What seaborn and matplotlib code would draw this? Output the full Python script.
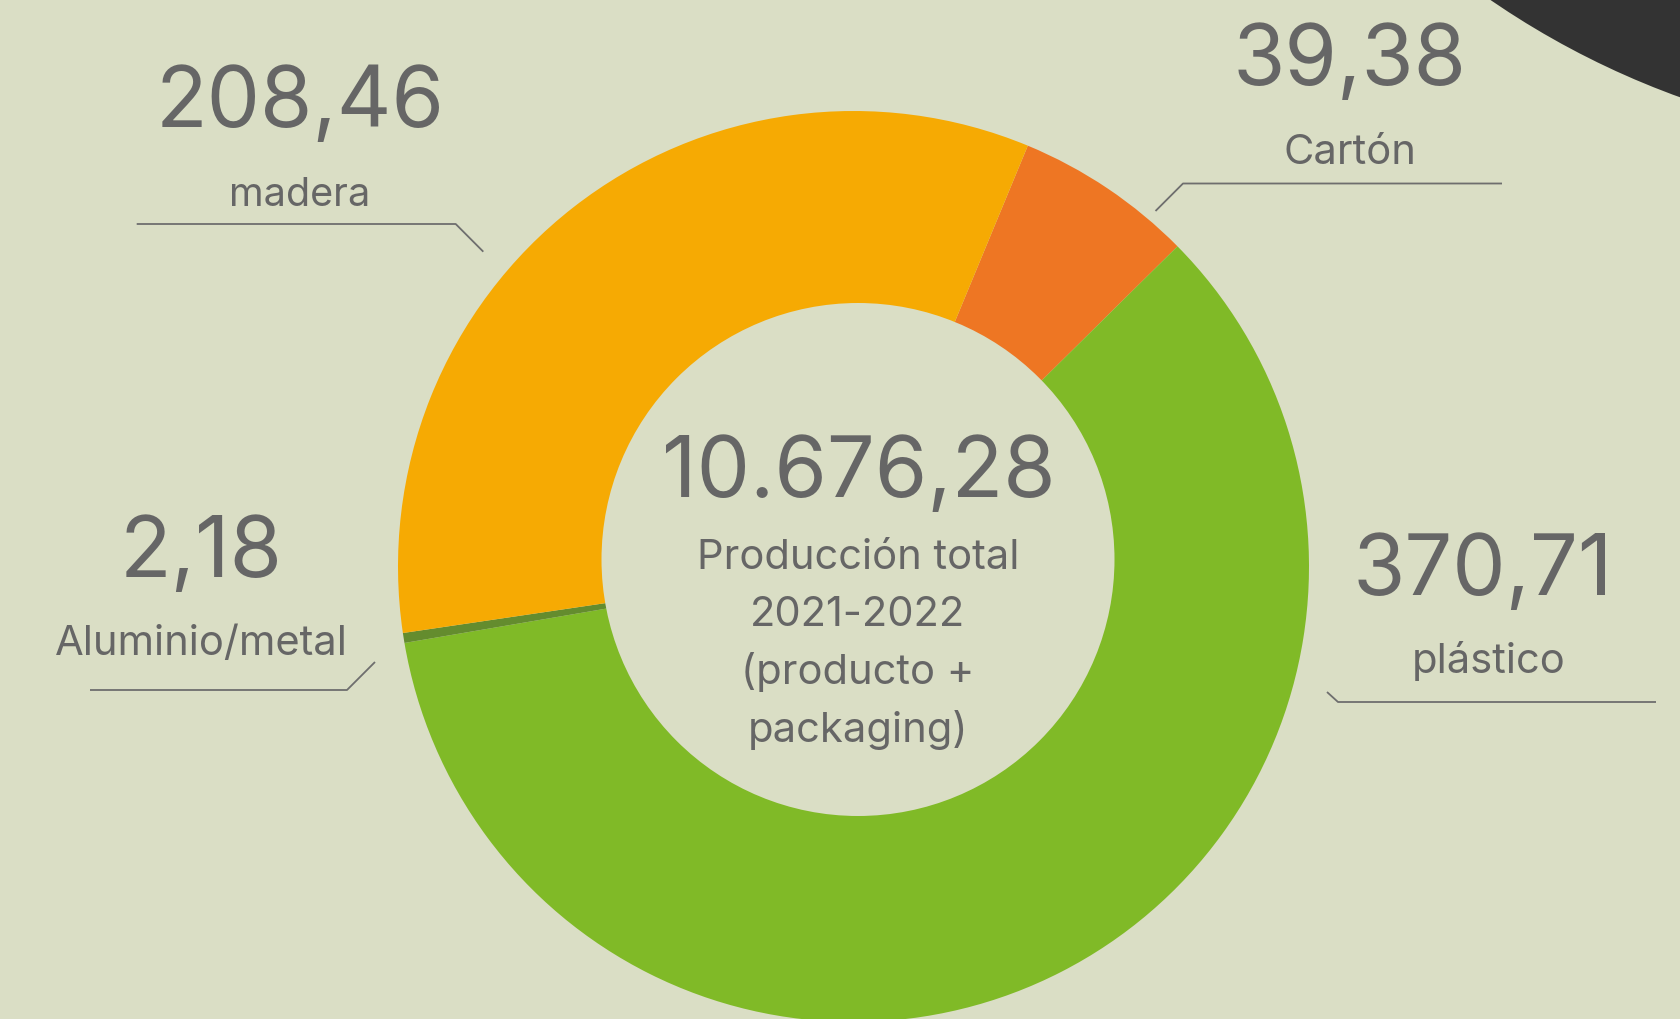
import matplotlib
matplotlib.use("Agg")
import matplotlib.pyplot as plt
from matplotlib.patches import Circle
import seaborn as sns

# Material breakdown (t), listed clockwise starting at the top-right slice
categories = ["Cartón", "plástico", "Aluminio/metal", "madera"]
values = [39.38, 370.71, 2.18, 208.46]
value_labels = ["39,38", "370,71", "2,18", "208,46"]
total_label = "10.676,28"
center_lines = ["Producción total", "2021-2022", "(producto +", "packaging)"]

BG = "#DADEC5"
TXT = "#666666"
LINE = "#6E6E6E"
palette = sns.color_palette(["#EE7623", "#80BA27", "#648C2E", "#F6AA03"])

sns.set_theme(style="white", rc={"axes.facecolor": BG, "figure.facecolor": BG})
plt.rcParams["font.family"] = ["Inter", "Roboto", "DejaVu Sans"]

W, H = 1681, 1020
fig = plt.figure(figsize=(W / 100, H / 100), dpi=100)
ax = fig.add_axes([0, 0, 1, 1])


def Y(y):
    # image-style y (top = 0) to data y
    return H - y


# decorative dark disc in the top-right corner
ax.add_patch(Circle((1964, Y(-688)), 836, color="#333333", lw=0, zorder=0))

# donut ring
ax.pie(values, colors=palette, startangle=67.5, counterclock=False,
       center=(853.5, Y(567.5)), radius=455.5,
       wedgeprops=dict(linewidth=0, antialiased=True))
ax.add_patch(Circle((858, Y(560.5)), 256.5, color=BG, lw=0, zorder=3))

ax.set_xlim(0, W)
ax.set_ylim(0, H)
ax.set_aspect("equal")
ax.axis("off")

num_kw = dict(color=TXT, fontsize=61, ha="center", va="baseline", zorder=5)
lab_kw = dict(color=TXT, fontsize=30, ha="center", va="baseline", zorder=5)

# label blocks: value x, value baseline, name x, name baseline, name size
blocks = {
    "madera": (300, 127, 300, 205.5, 28.5),
    "Cartón": (1350, 85, 1350, 164, 30),
    "Aluminio/metal": (201, 577, 201.5, 655, 30),
    "plástico": (1483, 595, 1488.5, 673, 30),
}
for cat, vlab in zip(categories, value_labels):
    vx, vy, nx, ny, ns = blocks[cat]
    ax.text(vx, Y(vy), vlab, **num_kw)
    kw = dict(lab_kw)
    kw["fontsize"] = ns
    ax.text(nx, Y(ny), cat, **kw)

# leader lines
leaders = [
    [(136.7, 225), (455.7, 225), (483.3, 252.7)],
    [(1155.5, 212), (1183, 184.5), (1502, 184.5)],
    [(90, 691), (347, 691), (375, 663)],
    [(1327, 693), (1338, 703), (1656, 703)],
]
for pts in leaders:
    xs = [p[0] for p in pts]
    ys = [Y(p[1]) for p in pts]
    ax.plot(xs, ys, color=LINE, lw=1.3, zorder=5, solid_capstyle="butt")

# centre caption
ax.text(858.5, Y(497), total_label, **num_kw)
for i, line in enumerate(center_lines):
    ax.text(858, Y(569 + 57.5 * i), line, **lab_kw)

fig.savefig("out.png", dpi=100, facecolor=BG)
